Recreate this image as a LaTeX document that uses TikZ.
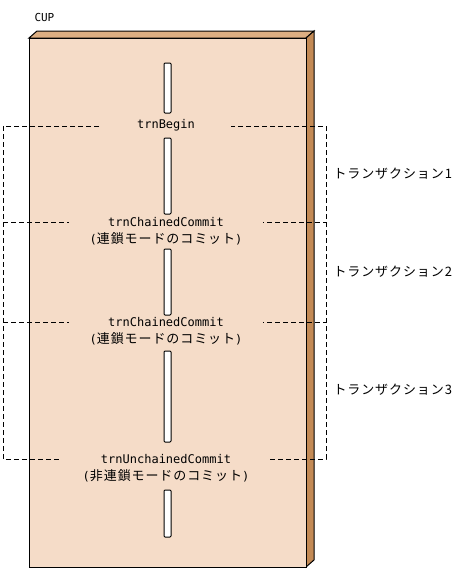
\documentclass[tikz,border=0pt]{standalone}
\usepackage{fontspec}
\setmainfont{DejaVu Sans Mono}
\newfontfamily\jpfont[LetterSpace=7]{Noto Sans CJK JP}
\newcommand\jptext[1]{{\jpfont\fontsize{13}{17}\selectfont #1}}
\usetikzlibrary{positioning}
\definecolor{cupfront}{RGB}{245,220,200}
\definecolor{cuptop}{RGB}{220,174,130}
\definecolor{cupside}{RGB}{195,138,85}

\begin{document}
\begin{tikzpicture}[x=1pt,y=-1pt,line width=1pt,
  slot/.style={draw,fill=white,rounded corners=1pt},
  call/.style={fill=cupfront,inner xsep=21pt,inner ysep=0pt,align=center,font=\fontsize{12}{17}\selectfont},
  trnline/.style={line width=0.9pt,dash pattern=on 5pt off 3pt},
  trnlabel/.style={anchor=west,inner sep=0pt,font=\jpfont\fontsize{13}{15}\selectfont}]
\useasboundingbox (0,0) rectangle (461,571);
\node[anchor=west,inner sep=0pt,font=\fontsize{11}{13}\selectfont] (cup) at (34,17) {CUP};
% the CUP block
\filldraw[fill=cuptop] (29,38) -- (37,31) -- (314,31) -- (306,38) -- cycle;
\filldraw[fill=cupside] (306,38) -- (314,31) -- (314,560) -- (306,567) -- cycle;
\filldraw[fill=cupfront] (29,38) rectangle (306,567);
% transactions
\draw[trnline] (3,126) rectangle (326,459);
\draw[trnline] (3,222) -- (326,222);
\draw[trnline] (3,322) -- (326,322);
\node[trnlabel] (tx1) at (333,174) {トランザクション1};
\node[trnlabel] (tx2) at (333,272) {トランザクション2};
\node[trnlabel] (tx3) at (333,390) {トランザクション3};
% calls
\node[call,minimum width=130pt] (begin) at (166,125) {trnBegin};
\node[call] (commit1) at (166,231) {trnChainedCommit\\(\jptext{連鎖モードのコミット})};
\node[call] (commit2) at (166,331) {trnChainedCommit\\(\jptext{連鎖モードのコミット})};
\node[call] (unchained) at (166,468) {trnUnchainedCommit\\(\jptext{非連鎖モードのコミット})};
\foreach \a/\b in {63/113,138/214,249/315,351/442,490/537}
  \draw[slot] (164,\a) rectangle (171,\b);
\end{tikzpicture}
\end{document}
